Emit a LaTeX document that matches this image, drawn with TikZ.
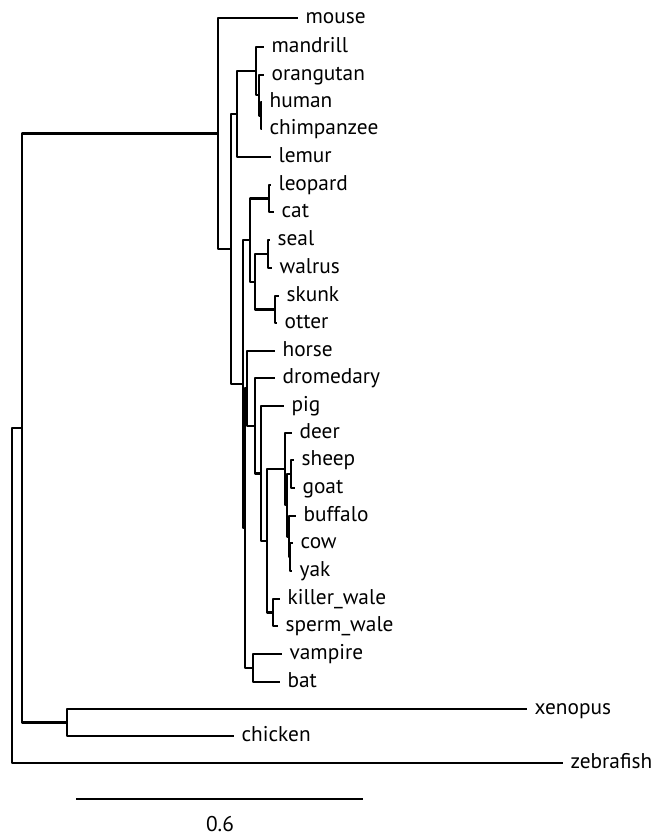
\documentclass[tikz,border=0pt]{standalone}
\usepackage{fontspec}
\setmainfont{PT Sans}
\usetikzlibrary{positioning}
\newcommand{\leaffont}{\fontsize{16}{18}\selectfont}
\tikzset{
  br/.style  ={draw, line width=1.7pt, line join=round},
  leaf/.style={anchor=base west, yshift=-4pt, inner xsep=5.5pt, inner ysep=0pt, font=\leaffont},
  scl/.style ={font=\leaffont, inner sep=0pt},
}

\begin{document}
\begin{tikzpicture}[x=0.75pt,y=-0.75pt]
\useasboundingbox (0,0) rectangle (653,838);
% ---- leaves ---------------------------------------------------------
\coordinate (t-mouse)     at (298,18);
\coordinate (t-mandrill)  at (264,47);
\coordinate (t-orangutan) at (264,75);
\coordinate (t-human)     at (262,102);
\coordinate (t-chimp)     at (262,129);
\coordinate (t-lemur)     at (271,157);
\coordinate (t-leopard)   at (271,185);
\coordinate (t-cat)       at (274,212);
\coordinate (t-seal)      at (270,240);
\coordinate (t-walrus)    at (272,268);
\coordinate (t-skunk)     at (279,296);
\coordinate (t-otter)     at (277,323);
\coordinate (t-horse)     at (275,351);
\coordinate (t-dromedary) at (275,378);
\coordinate (t-pig)       at (284,406);
\coordinate (t-deer)      at (292,433);
\coordinate (t-sheep)     at (294,460);
\coordinate (t-goat)      at (295,488);
\coordinate (t-buffalo)   at (296,516);
\coordinate (t-cow)       at (293,543);
\coordinate (t-yak)       at (292,571);
\coordinate (t-killer)    at (280,599);
\coordinate (t-sperm)     at (278,626);
\coordinate (t-vampire)   at (282,654);
\coordinate (t-bat)       at (280,682);
\coordinate (t-xenopus)   at (527,709);
\coordinate (t-chicken)   at (234,736);
\coordinate (t-zebrafish) at (563,763);

\node[leaf] (mouse)     at (t-mouse)     {mouse};
\node[leaf] (mandrill)  at (t-mandrill)  {mandrill};
\node[leaf] (orangutan) at (t-orangutan) {orangutan};
\node[leaf] (human)     at (t-human)     {human};
\node[leaf] (chimp)     at (t-chimp)     {chimpanzee};
\node[leaf] (lemur)     at (t-lemur)     {lemur};
\node[leaf] (leopard)   at (t-leopard)   {leopard};
\node[leaf] (cat)       at (t-cat)       {cat};
\node[leaf] (seal)      at (t-seal)      {seal};
\node[leaf] (walrus)    at (t-walrus)    {walrus};
\node[leaf] (skunk)     at (t-skunk)     {skunk};
\node[leaf] (otter)     at (t-otter)     {otter};
\node[leaf] (horse)     at (t-horse)     {horse};
\node[leaf] (dromedary) at (t-dromedary) {dromedary};
\node[leaf] (pig)       at (t-pig)       {pig};
\node[leaf] (deer)      at (t-deer)      {deer};
\node[leaf] (sheep)     at (t-sheep)     {sheep};
\node[leaf] (goat)      at (t-goat)      {goat};
\node[leaf] (buffalo)   at (t-buffalo)   {buffalo};
\node[leaf] (cow)       at (t-cow)       {cow};
\node[leaf] (yak)       at (t-yak)       {yak};
\node[leaf] (killer)    at (t-killer)    {killer\_wale};
\node[leaf] (sperm)     at (t-sperm)     {sperm\_wale};
\node[leaf] (vampire)   at (t-vampire)   {vampire};
\node[leaf] (bat)       at (t-bat)       {bat};
\node[leaf] (xenopus)   at (t-xenopus)   {xenopus};
\node[leaf] (chicken)   at (t-chicken)   {chicken};
\node[leaf] (zebrafish) at (t-zebrafish) {zebrafish};

% ---- inner nodes ----------------------------------------------------
\coordinate (root) at (12,595.5);
\coordinate (tetra) at (22,428);
\coordinate (xc)   at (67,722.5);
\coordinate (mam)  at (218,133.5);
\coordinate (bor)  at (231,249);
\coordinate (prl)  at (237,114);
\coordinate (pri)  at (256,71.1);
\coordinate (hom)  at (259,95.25);
\coordinate (hc)   at (261,115.5);
\coordinate (lau)  at (243,384.1);
\coordinate (car)  at (250,240.1);
\coordinate (fel)  at (269,198.5);
\coordinate (can)  at (255,281.75);
\coordinate (pin)  at (268,254);
\coordinate (mus)  at (275,309.5);
\coordinate (scr)  at (245,528.2);
\coordinate (ung)  at (247,388.35);
\coordinate (cet)  at (255,425.7);
\coordinate (art)  at (261,473.4);
\coordinate (whr)  at (267,540.8);
\coordinate (rum)  at (285,469.1);
\coordinate (bovd) at (287,505.25);
\coordinate (cap)  at (291,474);
\coordinate (bov)  at (289,536.5);
\coordinate (cy)   at (290,557);
\coordinate (wha)  at (273,612.5);
\coordinate (chi)  at (253,668);

% ---- branches -------------------------------------------------------
\draw[br] (root) |- (tetra);
\draw[br] (root) |- (t-zebrafish);
\draw[br] (tetra) |- (mam);
\draw[br] (tetra) |- (xc);
\draw[br] (xc) |- (t-xenopus);
\draw[br] (xc) |- (t-chicken);
\draw[br] (mam) |- (t-mouse);
\draw[br] (mam) |- (bor);
\draw[br] (bor) |- (prl);
\draw[br] (bor) |- (lau);
% primates
\draw[br] (prl) |- (pri);
\draw[br] (prl) |- (t-lemur);
\draw[br] (pri) |- (t-mandrill);
\draw[br] (pri) |- (hom);
\draw[br] (hom) |- (t-orangutan);
\draw[br] (hom) |- (hc);
\draw[br] (hc) |- (t-human);
\draw[br] (hc) |- (t-chimp);
% carnivores
\draw[br] (lau) |- (car);
\draw[br] (lau) |- (scr);
\draw[br] (car) |- (fel);
\draw[br] (car) |- (can);
\draw[br] (fel) |- (t-leopard);
\draw[br] (fel) |- (t-cat);
\draw[br] (can) |- (pin);
\draw[br] (can) |- (mus);
\draw[br] (pin) |- (t-seal);
\draw[br] (pin) |- (t-walrus);
\draw[br] (mus) |- (t-skunk);
\draw[br] (mus) |- (t-otter);
% ungulates and bats
\draw[br] (scr) |- (ung);
\draw[br] (scr) |- (chi);
\draw[br] (ung) |- (t-horse);
\draw[br] (ung) |- (cet);
\draw[br] (cet) |- (t-dromedary);
\draw[br] (cet) |- (art);
\draw[br] (art) |- (t-pig);
\draw[br] (art) |- (whr);
\draw[br] (whr) |- (rum);
\draw[br] (whr) |- (wha);
\draw[br] (rum) |- (t-deer);
\draw[br] (rum) |- (bovd);
\draw[br] (bovd) |- (cap);
\draw[br] (bovd) |- (bov);
\draw[br] (cap) |- (t-sheep);
\draw[br] (cap) |- (t-goat);
\draw[br] (bov) |- (t-buffalo);
\draw[br] (bov) |- (cy);
\draw[br] (cy) |- (t-cow);
\draw[br] (cy) |- (t-yak);
\draw[br] (wha) |- (t-killer);
\draw[br] (wha) |- (t-sperm);
\draw[br] (chi) |- (t-vampire);
\draw[br] (chi) |- (t-bat);

% ---- scale bar ------------------------------------------------------
\coordinate (s0) at (76,799);
\coordinate (s1) at (363,799);
\draw[br] (s0) -- (s1);
\node[scl] (sval) at (220,824) {0.6};
\end{tikzpicture}
\end{document}
